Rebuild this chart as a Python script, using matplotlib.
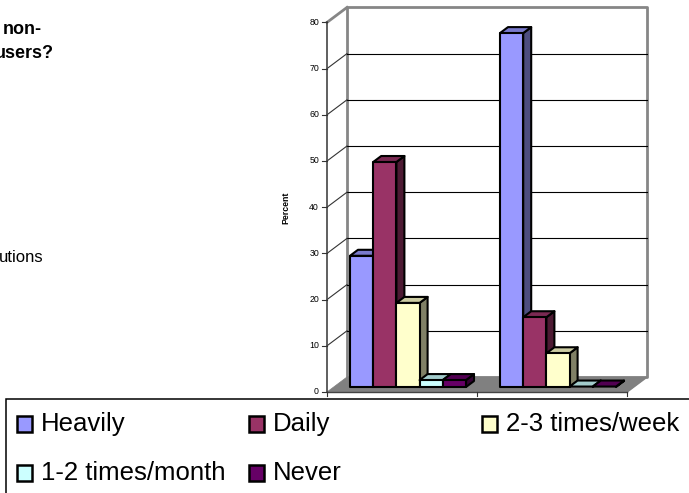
import matplotlib
matplotlib.use('Agg')
import matplotlib.pyplot as plt
from matplotlib.colors import to_rgb
from matplotlib.patches import Polygon, Rectangle

plt.rcParams['font.family'] = ['Liberation Sans', 'DejaVu Sans']

groups = ['Non-users', 'Users']
series = ['Heavily', 'Daily', '2-3 times/week', '1-2 times/month', 'Never']
colors = ['#9999FF', '#993366', '#FFFFCC', '#CCFFFF', '#660066']
heavily = [28.4, 76.6]
daily = [48.7, 15.1]
two_three_week = [18.2, 7.3]
one_two_month = [1.5, 0.1]
never = [1.5, 0.1]
values = [heavily, daily, two_three_week, one_two_month, never]
yticks = [0, 10, 20, 30, 40, 50, 60, 70, 80]

W, H = 689, 493
fig = plt.figure(figsize=(W / 100, H / 100), dpi=100)

# axes = the front plane of the fake 3d box
left, right, bottom, top = 327, 627, 392, 22.4
ax = fig.add_axes([left / W, 1 - bottom / H, (right - left) / W, (bottom - top) / H])
ax.set_xlim(0, 2)
ax.set_ylim(0, 80)
ax.axis('off')

px = 2 / (right - left)
py = 80 / (bottom - top)
wall_dx, wall_dy = 20 * px, 15 * py
off_dx, off_dy = 6.7 * px, 5 * py
depth_dx, depth_dy = 8 * px, 6 * py
bar_w = 23.2 * px
gap = 16.3 * px


def poly(pts, fc, ec='black', lw=1.5, z=3):
    ax.add_patch(Polygon(pts, closed=True, facecolor=fc, edgecolor=ec, linewidth=lw,
                         joinstyle='round', clip_on=False, zorder=z))


def shade(c, f):
    return tuple(v * f for v in to_rgb(c))


# walls
poly([(wall_dx, wall_dy), (wall_dx, 80 + wall_dy), (2 + wall_dx, 80 + wall_dy), (2 + wall_dx, wall_dy)],
     'white', ec='#868686', lw=2.0, z=1)
ax.plot([0, wall_dx], [80, 80 + wall_dy], color='#868686', lw=2.0, zorder=1, clip_on=False)
ax.plot([2, 2 + wall_dx], [0, wall_dy], color='#868686', lw=1.2, zorder=2, clip_on=False)

# gridlines on the back wall and their connectors
for v in yticks[1:-1]:
    ax.plot([wall_dx, 2 + wall_dx], [v + wall_dy, v + wall_dy], color='black', lw=0.8, zorder=2, clip_on=False)
for v in yticks[1:-1]:
    ax.plot([0, wall_dx], [v, v + wall_dy], color='#333333', lw=0.8, zorder=2, clip_on=False)

# floor
poly([(0, 0), (2, 0), (2 + wall_dx, wall_dy), (wall_dx, wall_dy)], '#808080', ec='#808080', lw=0.5, z=2)

# axis lines and ticks
ax.plot([0, 0], [0, 80], color='#444444', lw=1.2, zorder=2, clip_on=False)
ax.plot([0, 2], [0, 0], color='#444444', lw=1.0, zorder=2, clip_on=False)
for v in yticks:
    ax.plot([-5 * px, 0], [v, v], color='#333333', lw=0.8, clip_on=False)
    ax.text(-8 * px, v, str(v), ha='right', va='center', fontsize=6.3, color='black')
for g in range(3):
    ax.plot([g, g], [0, -4 * py], color='#333333', lw=0.8, clip_on=False)

# bars, left to right so each one overlaps the side of the one before
for g in range(len(groups)):
    for s, vals in enumerate(values):
        v = vals[g]
        x0 = g + off_dx + gap + s * bar_w
        x1 = x0 + bar_w
        y0 = off_dy
        y1 = off_dy + v
        c = colors[s]
        poly([(x1, y0), (x1 + depth_dx, y0 + depth_dy), (x1 + depth_dx, y1 + depth_dy), (x1, y1)], shade(c, 0.5), z=3)
        poly([(x0, y1), (x1, y1), (x1 + depth_dx, y1 + depth_dy), (x0 + depth_dx, y1 + depth_dy)], shade(c, 0.8), z=3)
        if v >= 1:
            poly([(x0, y0), (x1, y0), (x1, y1), (x0, y1)], c, z=3)

fig.text(286 / W, 1 - 208 / H, 'Percent', rotation=90, ha='center', va='center', fontsize=6.3, fontweight='bold')

# cut off text from the page the chart was pasted on
fig.text(3 / W, 1 - 29 / H, 'non-', ha='left', va='center', fontsize=13, fontweight='bold')
fig.text(-5 / W, 1 - 54 / H, 'users?', ha='left', va='center', fontsize=13, fontweight='bold')
fig.text(-1 / W, 1 - 257 / H, 'utions', ha='left', va='center', fontsize=12)

# legend box, running off the right and bottom of the picture
fig.add_artist(Rectangle((5.5 / W, -5 / H), 700 / W, (5 + H - 399) / H, transform=fig.transFigure,
                         facecolor='white', edgecolor='black', linewidth=1.1, zorder=5))
leg_x = [17, 249, 482, 17, 249]
leg_y = [424, 424, 424, 473, 473]
for name, c, lx, ly in zip(series, colors, leg_x, leg_y):
    fig.add_artist(Rectangle((lx / W, 1 - (ly + 8) / H), 15 / W, 16 / H, transform=fig.transFigure,
                             facecolor=c, edgecolor='black', linewidth=1.8, zorder=6))
    fig.text((lx + 24) / W, 1 - ly / H, name, ha='left', va='center', fontsize=18.5, zorder=6)

fig.savefig('out.png', dpi=100)
